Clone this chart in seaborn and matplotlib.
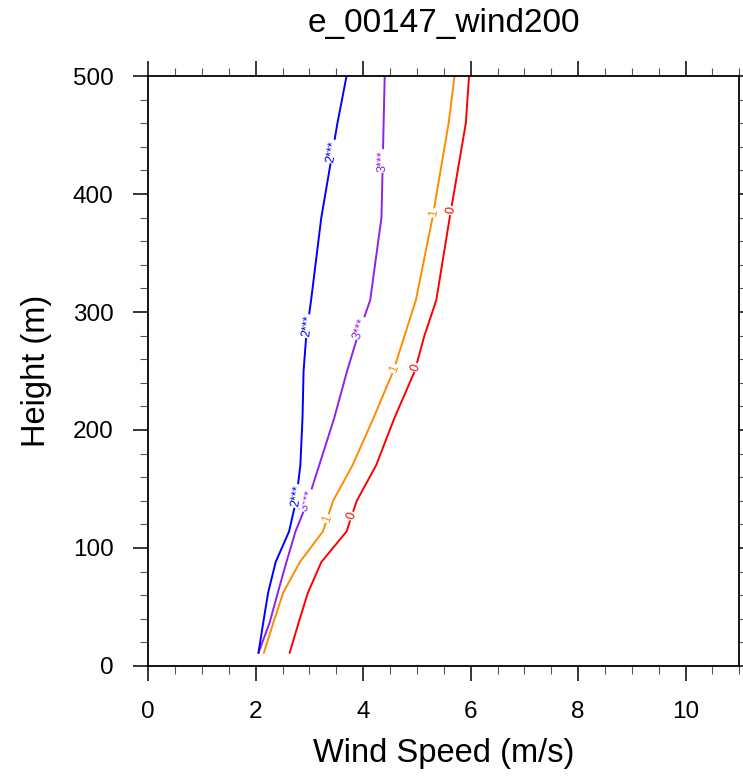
import numpy as np
import pandas as pd
import matplotlib
matplotlib.use("Agg")
import matplotlib.pyplot as plt
from matplotlib.ticker import MultipleLocator
import seaborn as sns

# ---- data ----
heights = [11, 37, 62, 88, 114, 140, 170, 210, 250, 280, 310, 380, 460, 500]
ws_0 = [2.63, 2.80, 2.97, 3.22, 3.69, 3.88, 4.24, 4.58, 4.96, 5.14, 5.36, 5.61, 5.91, 5.97]
ws_1 = [2.15, 2.33, 2.51, 2.82, 3.25, 3.44, 3.80, 4.19, 4.56, 4.77, 4.98, 5.29, 5.59, 5.70]
ws_3 = [2.05, 2.26, 2.41, 2.57, 2.74, 2.97, 3.18, 3.46, 3.70, 3.90, 4.13, 4.34, 4.38, 4.40]
ws_2 = [2.05, 2.14, 2.23, 2.37, 2.62, 2.75, 2.83, 2.87, 2.89, 2.94, 3.03, 3.22, 3.52, 3.69]

series_names = ["0", "1", "3***", "2***"]
series_values = [ws_0, ws_1, ws_3, ws_2]
series_colors = ["#ff0000", "#ff8c00", "#9020f0", "#0000ff"]
label_heights = [[127, 253, 386], [125, 252, 384], [140, 286, 428], [144, 288, 436]]

title = "e_00147_wind200"
xlabel = "Wind Speed (m/s)"
ylabel = "Height (m)"

# ---- build table ----
rows = []
for name, vals in zip(series_names, series_values):
    for h, v in zip(heights, vals):
        rows.append({"ws": v, "height": h, "series": name})
df = pd.DataFrame(rows)

sns.set_theme(style="ticks")
plt.rcParams["font.family"] = ["Liberation Sans", "DejaVu Sans"]
plt.rcParams["text.color"] = "black"
plt.rcParams["axes.labelcolor"] = "black"
plt.rcParams["xtick.color"] = "black"
plt.rcParams["ytick.color"] = "black"

fig = plt.figure(figsize=(7.43, 7.76), dpi=100)
fig.patch.set_facecolor("white")
ax = fig.add_axes([0.1996, 0.1418, 0.9950 - 0.1996, 0.9020 - 0.1418])
ax.set_facecolor("white")

sns.lineplot(data=df, x="ws", y="height", hue="series", hue_order=series_names,
             palette=dict(zip(series_names, series_colors)), sort=False,
             estimator=None, legend=False, linewidth=1.4, ax=ax)

ax.set_xlim(0, 11)
ax.set_ylim(0, 500)
ax.xaxis.set_major_locator(MultipleLocator(2))
ax.xaxis.set_minor_locator(MultipleLocator(0.5))
ax.yaxis.set_major_locator(MultipleLocator(100))
ax.yaxis.set_minor_locator(MultipleLocator(20))
ax.tick_params(which="both", direction="out", top=True, right=True,
               labeltop=False, labelright=False, color="black", labelcolor="black")
ax.tick_params(which="major", length=11, width=1.1, labelsize=17.5)
ax.tick_params(which="minor", length=5.5, width=0.8, color="#555555")
ax.tick_params(axis="x", which="major", pad=14)
ax.tick_params(axis="y", which="major", pad=14)
for s in ax.spines.values():
    s.set_visible(True)
    s.set_linewidth(1.3)
    s.set_color("black")

ax.set_xlabel(xlabel, fontsize=23.5, labelpad=11, color="black")
ax.set_ylabel(ylabel, fontsize=23.5, labelpad=15, color="black")
ax.set_title(title, fontsize=24, pad=32, color="black")

# inline contour-style labels
for name, vals, col, lh in zip(series_names, series_values, series_colors, label_heights):
    for h in lh:
        x = np.interp(h, heights, vals)
        x1 = np.interp(h - 10, heights, vals)
        x2 = np.interp(h + 10, heights, vals)
        p1 = ax.transData.transform((x1, h - 10))
        p2 = ax.transData.transform((x2, h + 10))
        ang = np.degrees(np.arctan2(p2[1] - p1[1], p2[0] - p1[0]))
        if ang > 90:
            ang -= 180
        elif ang < -90:
            ang += 180
        ax.text(x, h, name, color=col, fontsize=9, rotation=ang,
                rotation_mode="anchor", ha="center", va="center",
                bbox=dict(facecolor="white", edgecolor="none", pad=0.8), zorder=5)

fig.savefig("out.png", dpi=100, facecolor="white")
